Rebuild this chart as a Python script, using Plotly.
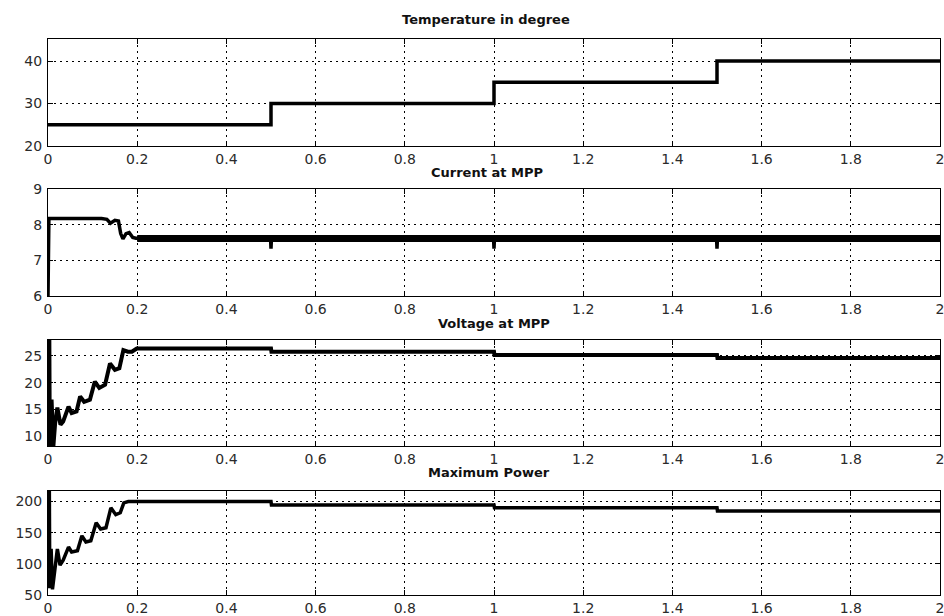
import plotly.graph_objects as go

# ---------------- data ----------------
temp_t = [0, 0.5, 0.5, 1.0, 1.0, 1.5, 1.5, 2.0]
temp_v = [25, 25, 30, 30, 35, 35, 40, 40]

curr_t = [0, 0.001, 0.002, 0.12, 0.132, 0.14, 0.15, 0.158, 0.163, 0.168, 0.175, 0.182, 0.19, 0.197, 0.2,
          0.499, 0.5, 0.501, 0.999, 1.0, 1.001, 1.499, 1.5, 1.501, 2.0]
curr_v = [6, 8.17, 8.17, 8.17, 8.15, 8.04, 8.12, 8.1, 7.75, 7.6, 7.75, 7.78, 7.64, 7.62, 7.62,
          7.62, 7.33, 7.62, 7.62, 7.33, 7.62, 7.62, 7.33, 7.62, 7.62]
band_t = [0.2, 2.0]
band_hi = [7.68, 7.68]
band_lo = [7.54, 7.54]

volt_t = [0, 0.003, 0.004, 0.008, 0.012, 0.016, 0.021, 0.028, 0.034, 0.046, 0.053, 0.064, 0.072,
          0.081, 0.094, 0.105, 0.115, 0.128, 0.139, 0.150, 0.160, 0.169, 0.179, 0.188, 0.199,
          0.5, 0.501, 1.0, 1.001, 1.5, 1.501, 2.0]
volt_v = [28, 28, 8, 16.8, 8, 12.4, 15.3, 12.1, 12.7, 15.5, 14.3, 14.6, 17.4,
          16.4, 16.8, 20.2, 19.0, 19.6, 23.6, 22.4, 22.7, 26.1, 25.8, 25.8, 26.4,
          26.4, 25.8, 25.8, 25.2, 25.2, 24.6, 24.6]

pow_t = [0, 0.003, 0.004, 0.007, 0.010, 0.015, 0.021, 0.027, 0.034, 0.046, 0.053, 0.066, 0.076,
         0.085, 0.096, 0.108, 0.118, 0.130, 0.141, 0.152, 0.162, 0.170, 0.180,
         0.5, 0.501, 1.0, 1.001, 1.5, 1.501, 2.0]
pow_v = [217, 217, 61, 124, 59, 88, 124, 98, 106, 127, 119, 121, 145,
         135, 137, 166, 156, 158, 190, 179, 182, 198, 200,
         200, 194.5, 194.5, 190, 190, 185, 185]

titles = ["Temperature in degree", "Current at MPP", "Voltage at MPP", "Maximum Power"]
title_x = [486, 487, 494, 489]
title_y = [19, 172, 323, 472]

x_ticks = [0, 0.2, 0.4, 0.6, 0.8, 1.0, 1.2, 1.4, 1.6, 1.8, 2.0]
x_tick_text = ["0", "0.2", "0.4", "0.6", "0.8", "1", "1.2", "1.4", "1.6", "1.8", "2"]
y_ticks = [[20, 30, 40], [6, 7, 8, 9], [10, 15, 20, 25], [50, 100, 150, 200]]
y_ranges = [[20, 45.2], [6, 9], [8.1, 28], [50, 217]]

# ---------------- layout ----------------
W, H = 944, 616
ML, MR, MT, MB = 48, 4, 39, 21
panels_px = [(39, 146), (189, 296), (340, 446), (491, 595)]
ph = H - MT - MB

def dom(top, bot):
    return [1 - (bot - MT) / ph, 1 - (top - MT) / ph]

fig = go.Figure()

series = [(temp_t, temp_v), (curr_t, curr_v), (volt_t, volt_v), (pow_t, pow_v)]
for i, (t, v) in enumerate(series):
    xa = "x" if i == 0 else f"x{i+1}"
    ya = "y" if i == 0 else f"y{i+1}"
    if i == 1:
        fig.add_trace(go.Scatter(x=band_t, y=band_lo, xaxis=xa, yaxis=ya, mode="lines",
                                 line=dict(color="black", width=2), showlegend=False, hoverinfo="skip"))
        fig.add_trace(go.Scatter(x=band_t, y=band_hi, xaxis=xa, yaxis=ya, mode="lines",
                                 line=dict(color="black", width=2), fill="tonexty",
                                 fillcolor="black", showlegend=False, hoverinfo="skip"))
    w = 4 if i == 2 else 3.5
    fig.add_trace(go.Scatter(x=t, y=v, xaxis=xa, yaxis=ya, mode="lines",
                             line=dict(color="black", width=w), showlegend=False))

font_tick = dict(family="DejaVu Sans, Liberation Sans, sans-serif", size=14, color="#2a2a2a")
layout = dict(
    width=W, height=H,
    margin=dict(l=ML, r=MR, t=MT, b=MB, autoexpand=False),
    paper_bgcolor="white", plot_bgcolor="white",
    showlegend=False,
)
for i, (top, bot) in enumerate(panels_px):
    sx = "" if i == 0 else str(i + 1)
    common = dict(
        ticks="inside", ticklen=5, tickcolor="black",
        showline=True, linecolor="black", linewidth=1, mirror="ticks",
        showgrid=True, gridcolor="black", griddash="2px,4px", gridwidth=1,
        zeroline=False, tickfont=font_tick, automargin=False,
        ticklabeloverflow="allow",
    )
    layout[f"xaxis{sx}"] = dict(
        domain=[0, 1], range=[0, 2], anchor=f"y{sx}",
        tickvals=x_ticks, ticktext=x_tick_text, **common)
    layout[f"yaxis{sx}"] = dict(
        domain=dom(top, bot), range=y_ranges[i], anchor=f"x{sx}",
        tickvals=y_ticks[i], ticklabelstandoff=2, **common)
fig.update_layout(**layout)

for txt, xp, yp in zip(titles, title_x, title_y):
    fig.add_annotation(text=f"<b>{txt}</b>", xref="paper", yref="paper",
                       x=(xp - ML) / (W - ML - MR), y=1 - (yp - MT) / ph,
                       showarrow=False, xanchor="center", yanchor="middle",
                       font=dict(family="DejaVu Sans, Liberation Sans, sans-serif", size=13, color="#111"))

fig.write_html("out.html", config={"displayModeBar": False},
               post_script="document.body.style.margin='0';document.body.style.overflow='hidden';")
